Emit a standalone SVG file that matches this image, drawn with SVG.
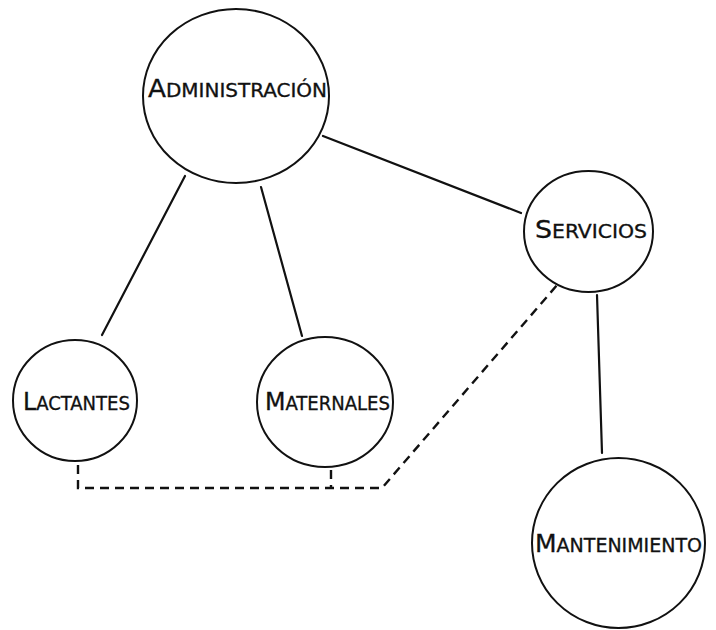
<svg xmlns="http://www.w3.org/2000/svg" width="716" height="630" viewBox="0 0 716 630">
<style>
.node{fill:#fff;stroke:#111;stroke-width:2}
.lbl{font-family:"DejaVu Sans Condensed","DejaVu Sans","Liberation Sans",sans-serif;font-size:19px;fill:#111;stroke:#111;stroke-width:0.3}
.big{font-size:25px}
.solid{stroke:#111;stroke-width:2.2;fill:none;stroke-linecap:round}
.dash{stroke:#111;stroke-width:2.4;fill:none;stroke-dasharray:9 6}
</style>
<rect width="716" height="630" fill="#fff"/>
<g id="connectors">
<line class="solid" x1="185" y1="176" x2="102" y2="335"/>
<line class="solid" x1="261" y1="187" x2="302" y2="336"/>
<line class="solid" x1="323" y1="136" x2="521" y2="213"/>
<line class="solid" x1="597" y1="295" x2="602" y2="453"/>
<polyline class="dash" points="78,465 78,488 382,488 558,284"/>
<line class="dash" x1="331" y1="470" x2="331" y2="488"/>
</g>
<g id="administracion">
<ellipse class="node" cx="236" cy="96" rx="93" ry="87"/>
<text class="lbl" x="148" y="97" textLength="179" lengthAdjust="spacingAndGlyphs"><tspan class="big">A</tspan>DMINISTRACIÓN</text>
</g>
<g id="servicios">
<ellipse class="node" cx="588.5" cy="231.5" rx="64.5" ry="60.5"/>
<text class="lbl" x="535" y="238" textLength="112" lengthAdjust="spacingAndGlyphs"><tspan class="big">S</tspan>ERVICIOS</text>
</g>
<g id="lactantes">
<ellipse class="node" cx="75" cy="400.5" rx="62" ry="60.5"/>
<text class="lbl" x="23" y="410" textLength="107" lengthAdjust="spacingAndGlyphs"><tspan class="big">L</tspan>ACTANTES</text>
</g>
<g id="maternales">
<ellipse class="node" cx="325" cy="402" rx="68" ry="65"/>
<text class="lbl" x="265" y="410" textLength="125" lengthAdjust="spacingAndGlyphs"><tspan class="big">M</tspan>ATERNALES</text>
</g>
<g id="mantenimiento">
<ellipse class="node" cx="618.5" cy="543" rx="86.5" ry="85"/>
<text class="lbl" x="535" y="552" textLength="167" lengthAdjust="spacingAndGlyphs"><tspan class="big">M</tspan>ANTENIMIENTO</text>
</g>
</svg>
